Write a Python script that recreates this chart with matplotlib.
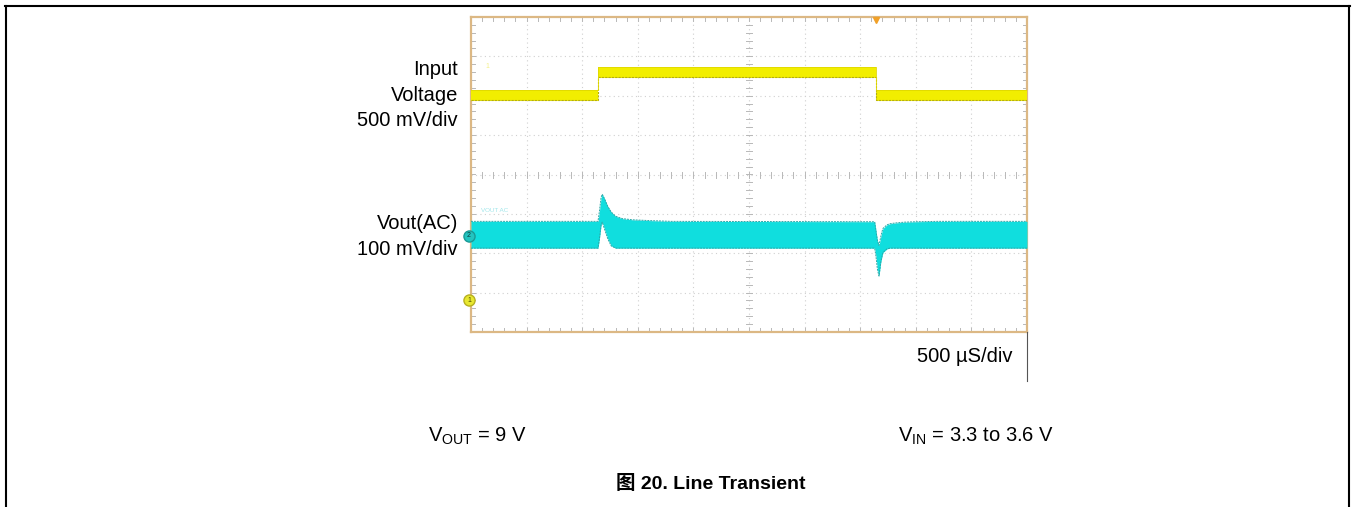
import numpy as np
import matplotlib
matplotlib.use("Agg")
import matplotlib.pyplot as plt
from matplotlib import font_manager
from matplotlib.lines import Line2D

# ---- scope settings -------------------------------------------------------
time_per_div_us = 500          # horizontal scale
n_hdiv, n_vdiv = 10, 8
ch1_v_per_div = 0.5            # input voltage channel
ch2_mv_per_div = 100           # output AC channel
ch1_pos_div = 2.30             # screen position of the input mid level
ch1_mid_v = 3.45
ch2_pos_div = -1.53            # screen position of the output AC zero
ch1_marker_div = -3.19
ch2_marker_div = -1.56
trigger_us = 3640

# ---- input voltage trace (time in us from left edge, volts) --------------
vin_t = [0, 1140, 1140, 3640, 3640, 5000]
vin_v = [3.3, 3.3, 3.6, 3.6, 3.3, 3.3]
vin_band_v = 0.07              # half width of the displayed noise band

# ---- output AC trace envelope (time in us, upper / lower edge in mV) -----
vout_t = [0, 1142, 1155, 1170, 1180, 1200, 1230, 1260, 1300, 1360, 1450,
          1600, 1800, 3630, 3642, 3655, 3669, 3685, 3696, 3705, 3740, 3768,
          3820, 3900, 4000, 4200, 5000]
vout_hi = [34, 34, 60, 95, 103, 92, 72, 58, 47, 41, 38,
           36, 34, 33, 10, -15, -27, -5, 8, 16, 25, 28,
           30, 32, 33, 34, 34]
vout_lo = [-34, -34, -10, 25, 32, 15, -10, -28, -34, -34, -34,
           -34, -34, -34, -55, -88, -105, -70, -55, -45, -36, -34,
           -34, -34, -34, -34, -34]

# ---- fonts ----------------------------------------------------------------
def pick(name, fallback):
    try:
        font_manager.findfont(name, fallback_to_default=False)
        return name
    except Exception:
        return fallback

SANS = pick("Liberation Sans", "DejaVu Sans")
NARROW = pick("Liberation Sans Narrow", SANS)
plt.rcParams["font.family"] = [SANS, "Noto Sans CJK SC"]
plt.rcParams["mathtext.fontset"] = "custom"
plt.rcParams["mathtext.rm"] = NARROW
plt.rcParams["mathtext.it"] = NARROW
plt.rcParams["mathtext.bf"] = NARROW

W, H = 1352, 507
fig = plt.figure(figsize=(W / 100, H / 100), dpi=100)
fig.patch.set_facecolor("white")


def fx(px):
    return px / W


def fy(py):
    return 1 - py / H


# outer frame (open at the bottom)
frame_kw = dict(color="black", lw=1.5, transform=fig.transFigure)
fig.add_artist(Line2D([fx(6), fx(6)], [fy(6), fy(H + 2)], **frame_kw))
fig.add_artist(Line2D([fx(1349), fx(1349)], [fy(6), fy(H + 2)], **frame_kw))
fig.add_artist(Line2D([fx(5.3), fx(1349.7)], [fy(6), fy(6)], **frame_kw))

# ---- scope screen ---------------------------------------------------------
x0, y0, x1, y1 = 471, 17, 1027, 332
ax = fig.add_axes([fx(x0), fy(y1), fx(x1 - x0), (y1 - y0) / H])
t_max = n_hdiv * time_per_div_us
ax.set_xlim(0, t_max)
ax.set_ylim(-n_vdiv / 2, n_vdiv / 2)
ax.set_xticks([])
ax.set_yticks([])
for s in ax.spines.values():
    s.set_color("#dcb884")
    s.set_linewidth(1.6)

px_per_div_x = (x1 - x0) / n_hdiv
px_per_div_y = (y1 - y0) / n_vdiv
us_per_px = time_per_div_us / px_per_div_x
div_per_px = 1 / px_per_div_y

grid_col = "#d0d0d0"
for i in range(1, n_hdiv):
    ax.axvline(i * time_per_div_us, color=grid_col, lw=0.8, ls=(0, (1, 3)), zorder=1)
for j in range(-n_vdiv // 2 + 1, n_vdiv // 2):
    ax.axhline(j, color=grid_col, lw=0.8, ls=(0, (1, 3)), zorder=1)

tick_col = "#b8b8b8"
# small ticks along the centre lines and the screen border
xs = np.arange(0.2, n_hdiv, 0.2) * time_per_div_us
for xv in xs:
    ax.plot([xv, xv], [-3 * div_per_px, 3 * div_per_px], color=tick_col, lw=0.7, zorder=1)
    ax.plot([xv, xv], [4, 4 - 4 * div_per_px], color=tick_col, lw=0.7, zorder=1)
    ax.plot([xv, xv], [-4, -4 + 4 * div_per_px], color=tick_col, lw=0.7, zorder=1)
ys = np.arange(-3.8, 4, 0.2)
mid_t = t_max / 2
for yv in ys:
    ax.plot([mid_t - 3 * us_per_px, mid_t + 3 * us_per_px], [yv, yv], color=tick_col, lw=0.7, zorder=1)
    ax.plot([0, 4 * us_per_px], [yv, yv], color=tick_col, lw=0.7, zorder=1)
    ax.plot([t_max, t_max - 4 * us_per_px], [yv, yv], color=tick_col, lw=0.7, zorder=1)

# input voltage (channel 1)
vin_t_a = np.array(vin_t, dtype=float)
vin_div = (np.array(vin_v) - ch1_mid_v) / ch1_v_per_div + ch1_pos_div
band = vin_band_v / ch1_v_per_div
ax.fill_between(vin_t_a, vin_div - band, vin_div + band, color="#f2ee00", lw=0, zorder=3)
ax.plot(vin_t_a, vin_div - band * 0.8, color="#b4ad10", lw=0.8, ls=(0, (2, 1)), zorder=4)
ax.plot(vin_t_a, vin_div + band, color="#e0d800", lw=0.6, zorder=4)

# output AC (channel 2)
vt = np.array(vout_t, dtype=float)
hi = np.array(vout_hi) / ch2_mv_per_div + ch2_pos_div
lo = np.array(vout_lo) / ch2_mv_per_div + ch2_pos_div
ax.fill_between(vt, lo, hi, color="#10dede", lw=0, zorder=3)
ax.plot(vt, hi, color="#2aa8a8", lw=0.7, ls=(0, (2, 1)), zorder=4)
ax.plot(vt, lo, color="#2aa8a8", lw=0.7, ls=(0, (2, 1)), zorder=4)

# channel labels inside the screen
ax.text(0.18 * time_per_div_us, ch2_pos_div + 0.62, "VOUT AC", color="#9fe6ea",
        fontsize=4.5, va="center", ha="left", zorder=5)
ax.text(0.3 * time_per_div_us, ch1_pos_div + 0.45, "1", color="#f4f08a",
        fontsize=5, va="center", ha="center", zorder=5)

# trigger marker at the top of the screen
ax.plot([trigger_us], [4 - 3 * div_per_px], marker="v", ms=5, color="#f0a028",
        clip_on=False, zorder=6)

# channel ground markers at the left border
ax.plot([0 - 2 * us_per_px], [ch2_marker_div], marker="o", ms=8, mfc="#22c4c0",
        mec="#1a9a96", clip_on=False, zorder=6)
ax.text(0 - 2 * us_per_px, ch2_marker_div, "2", fontsize=5, ha="center", va="center",
        color="#0a3a3a", zorder=7, clip_on=False)
ax.plot([0 - 2 * us_per_px], [ch1_marker_div], marker="o", ms=8, mfc="#e8e830",
        mec="#b8b020", clip_on=False, zorder=6)
ax.text(0 - 2 * us_per_px, ch1_marker_div, "1", fontsize=5, ha="center", va="center",
        color="#4a4a00", zorder=7, clip_on=False)

# ---- annotations ----------------------------------------------------------
lab_kw = dict(fontsize=14.5, ha="right", va="baseline", color="black", family=SANS)
fig.text(fx(458), fy(75), "Input", **lab_kw)
fig.text(fx(458), fy(101), "Voltage", **lab_kw)
fig.text(fx(458), fy(126), "500 mV/div", **lab_kw)
fig.text(fx(458), fy(229), "Vout(AC)", **lab_kw)
fig.text(fx(458), fy(255), "100 mV/div", **lab_kw)
fig.text(fx(1012), fy(362), "500 µS/div", **lab_kw)

fig.add_artist(Line2D([fx(1027), fx(1027)], [fy(332), fy(381)], color="#555555",
                      lw=0.8, transform=fig.transFigure))

cond_kw = dict(fontsize=14.5, ha="left", va="baseline", color="black",
               family=[NARROW, "Noto Sans CJK SC"])
fig.text(fx(428), fy(442), r"V$_{\mathrm{OUT}}$ = 9 V", **cond_kw)
fig.text(fx(898), fy(442), r"V$_{\mathrm{IN}}$ = 3.3 to 3.6 V", **cond_kw)
fig.text(fx(711), fy(489), "图 20. Line Transient", fontsize=14, fontweight="bold",
         ha="center", va="baseline", color="black",
         family=[NARROW, "Noto Sans CJK SC"])

fig.savefig("out.png", dpi=100, facecolor="white")
